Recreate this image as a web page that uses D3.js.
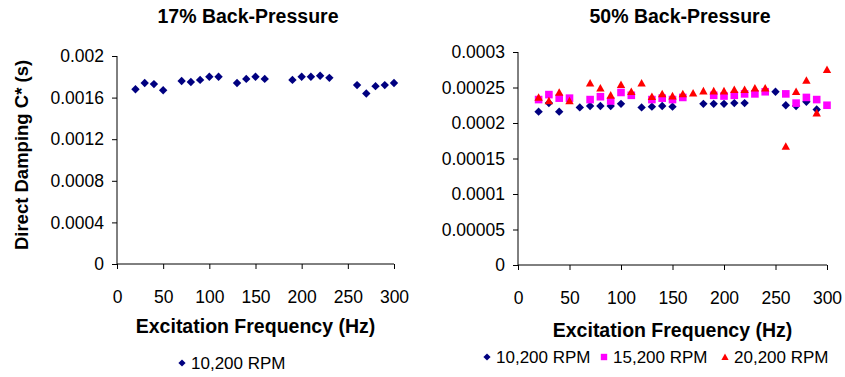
<!DOCTYPE html>
<html>
<head>
<meta charset="utf-8">
<script src="https://cdn.jsdelivr.net/npm/d3@7"></script>
<style>
  body { margin: 0; background: #fff; }
  svg { font-family: "Liberation Sans", Arial, sans-serif; }
</style>
</head>
<body>
<div id="chart"></div>
<script>
// Left panel: 17% back-pressure, 10,200 RPM
var leftFreq = [20, 30, 40, 50, 70, 80, 90, 100, 110, 130, 140, 150, 160, 190, 200, 210, 220, 230, 260, 270, 280, 290, 300];
var leftDamping = [0.00168, 0.00174, 0.00173, 0.00167, 0.00176, 0.00175, 0.00177, 0.0018, 0.0018, 0.00174, 0.00178, 0.0018, 0.00178,
  0.00177, 0.0018, 0.0018, 0.00181, 0.00179, 0.00172, 0.00164, 0.00171, 0.00172, 0.00174];

// Right panel: 50% back-pressure, three speeds
var rpm10Freq = [20, 30, 40, 60, 70, 80, 90, 100, 120, 130, 140, 150, 180, 190, 200, 210, 220, 250, 260, 270, 280, 290];
var rpm10Damping = [0.000216, 0.000228, 0.000216, 0.000222, 0.000224, 0.000224, 0.000224, 0.000227, 0.000222, 0.000223, 0.000224,
  0.000223, 0.000227, 0.000227, 0.000227, 0.000228, 0.000228, 0.000244, 0.000225, 0.000224, 0.00023, 0.000219];

var rpm15Freq = [20, 30, 40, 50, 70, 80, 90, 100, 110, 130, 140, 150, 160, 190, 200, 210, 220, 230, 240, 260, 270, 280, 290, 300];
var rpm15Damping = [0.000233, 0.00024, 0.000235, 0.000235, 0.000233, 0.000237, 0.000231, 0.000243, 0.000239, 0.000233, 0.000235,
  0.000233, 0.000236, 0.000239, 0.000238, 0.000239, 0.000241, 0.000241, 0.000244, 0.000241, 0.000228, 0.000236, 0.000233, 0.000225];

var rpm20Freq = [20, 30, 40, 50, 70, 80, 90, 100, 110, 120, 130, 140, 150, 160, 170, 180, 190, 200, 210, 220, 230, 240, 260, 270, 280, 290, 300];
var rpm20Damping = [0.000236, 0.000231, 0.000243, 0.000231, 0.000256, 0.000249, 0.000239, 0.000254, 0.000244, 0.000256, 0.000237,
  0.000241, 0.000238, 0.000241, 0.000242, 0.000245, 0.000245, 0.000245, 0.000247, 0.000247, 0.000249, 0.000249, 0.000167, 0.000244,
  0.00026, 0.000214, 0.000275];

var xTicks = [0, 50, 100, 150, 200, 250, 300];
var leftYTicks = [0, 0.0004, 0.0008, 0.0012, 0.0016, 0.002];
var rightYTicks = [0, 0.00005, 0.0001, 0.00015, 0.0002, 0.00025, 0.0003];
var seriesNames = ["10,200 RPM", "15,200 RPM", "20,200 RPM"];
var colors = ["#000080", "#ff00ff", "#ff0000"];

var svgWidth = 845;
var svgHeight = 377;

var svg = d3.select("#chart")
  .append("svg")
  .attr("width", svgWidth)
  .attr("height", svgHeight);

// marker shapes, centred on 0,0
function markerPath(kind, s) {
  if (kind === 0) return `M0,${-s}L${s},0L0,${s}L${-s},0Z`;
  if (kind === 1) return `M${-s},${-s}H${s}V${s}H${-s}Z`;
  return `M0,${-s}L${s},${s * 0.8}L${-s},${s * 0.8}Z`;
}

function zip(xs, ys) {
  return xs.map((x, i) => ({ f: x, c: ys[i] }));
}

function drawPanel(opts) {
  var x = d3.scaleLinear().domain([0, 300]).range(opts.xRange);
  var y = d3.scaleLinear().domain(opts.yDomain).range(opts.yRange);

  var xAxis = d3.axisBottom(x).tickValues(xTicks).tickSize(5).tickPadding(22).tickFormat(d3.format("d"));
  var yAxis = d3.axisLeft(y).tickValues(opts.yTicks).tickSize(5).tickPadding(8)
    .tickFormat(d => d === 0 ? "0" : String(+d.toPrecision(6)));

  var gx = svg.append("g")
    .attr("transform", `translate(0, ${opts.yRange[0]})`)
    .call(xAxis);
  var gy = svg.append("g")
    .attr("transform", `translate(${opts.xRange[0]}, 0)`)
    .call(yAxis);

  [gx, gy].forEach(function (g) {
    g.select(".domain").attr("stroke", "#000");
    g.selectAll(".tick line").attr("stroke", "#000");
    g.selectAll(".tick text").attr("fill", "#000").style("font-size", "17.5px");
  });
  // plain axis lines without end caps
  gx.select(".domain").attr("d", `M${opts.xRange[0]},0H${opts.xRange[1]}`);
  gy.select(".domain").attr("d", `M0,${opts.yRange[0]}V${opts.yRange[1]}`);

  opts.series.forEach(function (s, i) {
    svg.append("g")
      .selectAll("path")
      .data(zip(s.freq, s.vals))
      .enter()
      .append("path")
      .attr("d", markerPath(i, i === 1 ? 3.8 : 4.2))
      .attr("fill", colors[i])
      .attr("transform", d => `translate(${x(d.f)}, ${y(d.c)})`);
  });

  svg.append("text")
    .attr("x", opts.titleX)
    .attr("y", 23)
    .attr("text-anchor", "middle")
    .style("font-size", "19.5px")
    .style("font-weight", "bold")
    .text(opts.title);

  svg.append("text")
    .attr("x", (opts.xRange[0] + opts.xRange[1]) / 2)
    .attr("y", opts.xTitleY)
    .attr("text-anchor", "middle")
    .style("font-size", "19.5px")
    .style("font-weight", "bold")
    .text("Excitation Frequency (Hz)");

  // legend
  var lg = svg.append("g");
  opts.legend.forEach(function (item, i) {
    lg.append("path")
      .attr("d", markerPath(i, i === 1 ? 3.2 : 3.6))
      .attr("fill", colors[i])
      .attr("transform", `translate(${item.x}, ${opts.legendY})`);
    lg.append("text")
      .attr("x", item.x + 9)
      .attr("y", opts.legendY)
      .attr("dy", "0.35em")
      .style("font-size", "17px")
      .text(seriesNames[i]);
  });
}

drawPanel({
  xRange: [117, 394],
  yRange: [264, 56],
  yDomain: [0, 0.002],
  yTicks: leftYTicks,
  title: "17% Back-Pressure",
  titleX: 248,
  xTitleY: 333,
  series: [{ freq: leftFreq, vals: leftDamping }],
  legend: [{ x: 182 }],
  legendY: 363
});

drawPanel({
  xRange: [518, 827],
  yRange: [265, 52],
  yDomain: [0, 0.0003],
  yTicks: rightYTicks,
  title: "50% Back-Pressure",
  titleX: 680,
  xTitleY: 337,
  series: [
    { freq: rpm10Freq, vals: rpm10Damping },
    { freq: rpm15Freq, vals: rpm15Damping },
    { freq: rpm20Freq, vals: rpm20Damping }
  ],
  legend: [{ x: 487 }, { x: 604 }, { x: 725 }],
  legendY: 357
});

// y axis title (left panel only)
svg.append("text")
  .attr("transform", "translate(28, 155) rotate(-90)")
  .attr("text-anchor", "middle")
  .style("font-size", "18.5px")
  .style("font-weight", "bold")
  .text("Direct Damping C* (s)");
</script>
</body>
</html>
